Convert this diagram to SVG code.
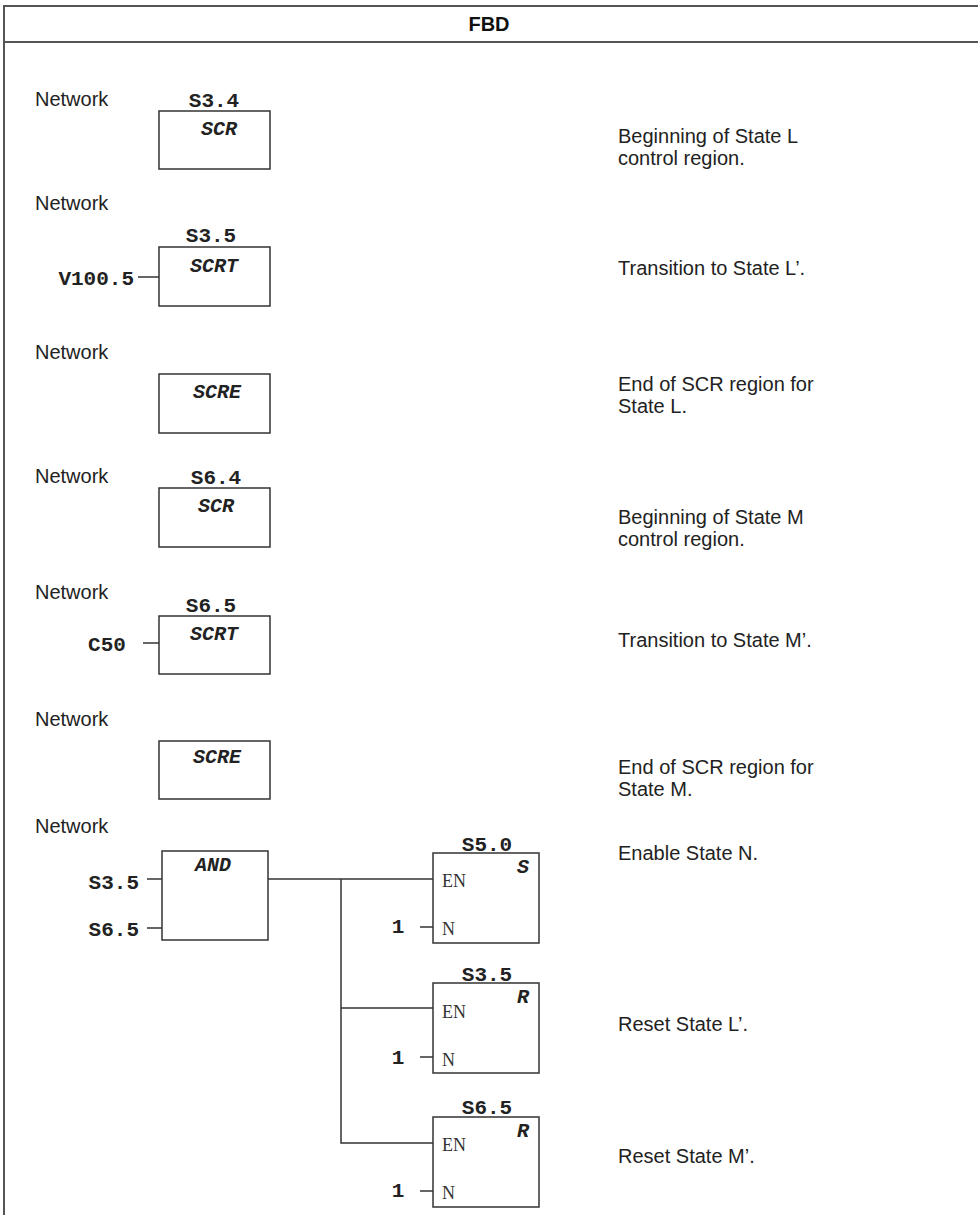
<svg xmlns="http://www.w3.org/2000/svg" width="978" height="1215" viewBox="0 0 978 1215">
<style>
.frame{stroke:#555;stroke-width:2;fill:none}
.box{stroke:#333;stroke-width:1.5;fill:#fff}
.wire{stroke:#333;stroke-width:1.5;fill:none}
.lbl{font-family:"Liberation Sans",Arial,sans-serif;font-size:20px;fill:#222}
.hdr{font-family:"Liberation Sans",Arial,sans-serif;font-size:20px;font-weight:bold;fill:#111}
.addr{font-family:"Liberation Mono","Courier New",monospace;font-size:21px;font-weight:bold;fill:#222}
.op{font-family:"Liberation Mono","Courier New",monospace;font-size:20px;font-weight:bold;font-style:italic;fill:#222;text-anchor:middle}
.pin{font-family:"Liberation Serif","Times New Roman",serif;font-size:18px;fill:#333}
.mid{text-anchor:middle}
.end{text-anchor:end}
</style>
<rect width="978" height="1215" fill="#fff"/>
<g id="frame">
<line class="frame" x1="4" y1="6" x2="978" y2="6"/>
<line class="frame" x1="4" y1="42" x2="978" y2="42"/>
<line class="frame" x1="4" y1="5" x2="4" y2="1215"/>
<text class="hdr" x="489" y="31" text-anchor="middle">FBD</text>
</g>
<g id="labels">
<text class="lbl" x="35" y="106">Network</text>
<text class="lbl" x="35" y="210">Network</text>
<text class="lbl" x="35" y="359">Network</text>
<text class="lbl" x="35" y="483">Network</text>
<text class="lbl" x="35" y="599">Network</text>
<text class="lbl" x="35" y="726">Network</text>
<text class="lbl" x="35" y="833">Network</text>
<text class="lbl" x="618" y="143">Beginning of State L</text>
<text class="lbl" x="618" y="165">control region.</text>
<text class="lbl" x="618" y="275">Transition to State L’.</text>
<text class="lbl" x="618" y="391">End of SCR region for</text>
<text class="lbl" x="618" y="413">State L.</text>
<text class="lbl" x="618" y="524">Beginning of State M</text>
<text class="lbl" x="618" y="546">control region.</text>
<text class="lbl" x="618" y="647">Transition to State M’.</text>
<text class="lbl" x="618" y="774">End of SCR region for</text>
<text class="lbl" x="618" y="796">State M.</text>
<text class="lbl" x="618" y="860">Enable State N.</text>
<text class="lbl" x="618" y="1031">Reset State L’.</text>
<text class="lbl" x="618" y="1163">Reset State M’.</text>
</g>
<g id="connectors">
<line class="wire" x1="138" y1="277" x2="159" y2="277"/>
<line class="wire" x1="143" y1="643" x2="159" y2="643"/>
<line class="wire" x1="147" y1="879" x2="162" y2="879"/>
<line class="wire" x1="147" y1="928" x2="162" y2="928"/>
<polyline class="wire" points="268,879 433,879"/>
<polyline class="wire" points="341,879 341,1143 433,1143"/>
<line class="wire" x1="341" y1="1008" x2="433" y2="1008"/>
<line class="wire" x1="420" y1="927" x2="433" y2="927"/>
<line class="wire" x1="420" y1="1057" x2="433" y2="1057"/>
<line class="wire" x1="420" y1="1191" x2="433" y2="1191"/>
</g>
<g id="n1">
<text class="addr mid" x="214" y="107">S3.4</text>
<rect class="box" x="159" y="111" width="111" height="58"/>
<text class="op" x="219" y="135">SCR</text>
</g>
<g id="n2">
<text class="addr mid" x="211" y="242">S3.5</text>
<rect class="box" x="159" y="247" width="111" height="59"/>
<text class="op" x="214" y="272">SCRT</text>
<text class="addr end" x="134" y="285">V100.5</text>
</g>
<g id="n3">
<rect class="box" x="159" y="374" width="111" height="59"/>
<text class="op" x="217" y="398">SCRE</text>
</g>
<g id="n4">
<text class="addr mid" x="216" y="484">S6.4</text>
<rect class="box" x="159" y="488" width="111" height="59"/>
<text class="op" x="216" y="512">SCR</text>
</g>
<g id="n5">
<text class="addr mid" x="211" y="612">S6.5</text>
<rect class="box" x="159" y="616" width="111" height="58"/>
<text class="op" x="214" y="640">SCRT</text>
<text class="addr mid" x="107" y="651">C50</text>
</g>
<g id="n6">
<rect class="box" x="159" y="741" width="111" height="58"/>
<text class="op" x="217" y="763">SCRE</text>
</g>
<g id="n7and">
<rect class="box" x="162" y="851" width="106" height="89"/>
<text class="op" x="213" y="871">AND</text>
<text class="addr end" x="139" y="889">S3.5</text>
<text class="addr end" x="139" y="936">S6.5</text>
</g>
<g id="n7set">
<text class="addr mid" x="487" y="851">S5.0</text>
<rect class="box" x="433" y="853" width="106" height="90"/>
<text class="op" x="523" y="873">S</text>
<text class="pin" x="442" y="887">EN</text>
<text class="pin" x="442" y="935">N</text>
<text class="addr mid" x="398" y="933">1</text>
</g>
<g id="n7reset1">
<text class="addr mid" x="487" y="981">S3.5</text>
<rect class="box" x="433" y="983" width="106" height="90"/>
<text class="op" x="523" y="1003">R</text>
<text class="pin" x="442" y="1018">EN</text>
<text class="pin" x="442" y="1066">N</text>
<text class="addr mid" x="398" y="1064">1</text>
</g>
<g id="n7reset2">
<text class="addr mid" x="487" y="1114">S6.5</text>
<rect class="box" x="433" y="1117" width="106" height="90"/>
<text class="op" x="523" y="1137">R</text>
<text class="pin" x="442" y="1151">EN</text>
<text class="pin" x="442" y="1199">N</text>
<text class="addr mid" x="398" y="1197">1</text>
</g>
</svg>
